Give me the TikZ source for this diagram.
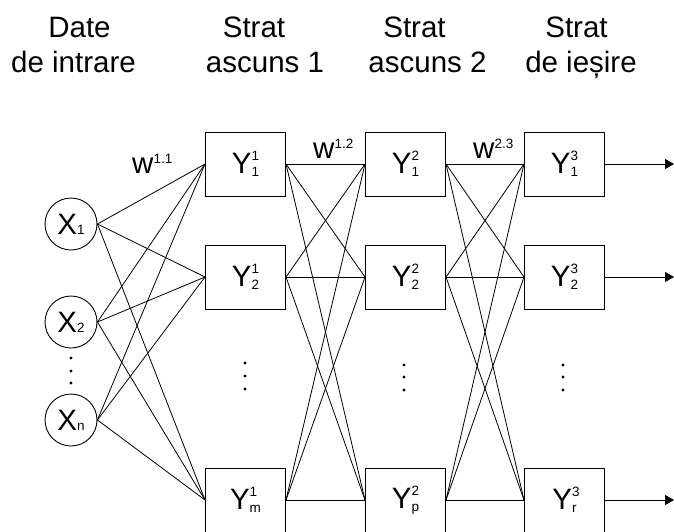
\documentclass[tikz,border=0pt]{standalone}
\usepackage{fontspec}
\setmainfont{Liberation Sans}
\usetikzlibrary{arrows.meta}
\newcommand\sfs{\fontsize{13.5}{14}\selectfont}
\newcommand\YS[3]{#1\rlap{\raisebox{13pt}{\sfs #2}}\raisebox{-2.5pt}{\sfs #3}}
\newcommand\XS[2]{#1{\sfs #2}}
\newcommand\WS[2]{#1\raisebox{10pt}{\sfs #2}}
\begin{document}
\begin{tikzpicture}[x=1pt,y=-1pt,
  every node/.style={font=\fontsize{29.5}{35}\selectfont},
  unit/.style={draw,line width=1pt,minimum width=80pt,minimum height=64pt,inner sep=0pt},
  inp/.style={draw,circle,line width=0.9pt,minimum size=52pt,inner sep=0pt},
  head/.style={anchor=base,inner sep=0pt},
  wl/.style={anchor=base west,inner sep=0pt},
  dot/.style={circle,fill,inner sep=0pt,minimum size=3.2pt},
  link/.style={line width=0.8pt},
  outarr/.style={line width=1pt,-{Triangle[length=9pt,width=10pt]}}]
\useasboundingbox (0,0) rectangle (674,531);
% headers
\node[head] (h1a) at (79.5,37) {Date};
\node[head] (h1b) at (73.5,72) {de intrare};
\node[head] (h2a) at (254,37) {Strat};
\node[head] (h2b) at (265,72) {ascuns 1};
\node[head] (h3a) at (414.5,37) {Strat};
\node[head] (h3b) at (427.5,72) {ascuns 2};
\node[head] (h4a) at (576.5,37) {Strat};
\node[head] (h4b) at (581,72) {de ieșire};
% input
\node[inp] (x1) at (71,224) {\XS{X}{1}};
\node[inp] (x2) at (71,322) {\XS{X}{2}};
\node[inp] (xn) at (71,420) {\XS{X}{n}};
% layer 1
\node[unit] (a1) at (245.5,164) {\YS{Y}{1}{1}};
\node[unit] (a2) at (245.5,277) {\YS{Y}{1}{2}};
\node[unit] (am) at (245.5,500) {\YS{Y}{1}{m}};
% layer 2
\node[unit] (b1) at (405.5,164) {\YS{Y}{2}{1}};
\node[unit] (b2) at (405.5,277) {\YS{Y}{2}{2}};
\node[unit] (bp) at (405.5,500) {\YS{Y}{2}{p}};
% layer 3
\node[unit] (c1) at (564.5,164) {\YS{Y}{3}{1}};
\node[unit] (c2) at (564.5,277) {\YS{Y}{3}{2}};
\node[unit] (cr) at (564.5,500) {\YS{Y}{3}{r}};
% dots
\node[dot] (dx1) at (71,358) {};
\node[dot] (dx2) at (71,371) {};
\node[dot] (dx3) at (71,383) {};
\node[dot] (da1) at (245,363) {};
\node[dot] (da2) at (245,376) {};
\node[dot] (da3) at (245,389) {};
\node[dot] (db1) at (404,365) {};
\node[dot] (db2) at (404,377) {};
\node[dot] (db3) at (404,390) {};
\node[dot] (dc1) at (563,365) {};
\node[dot] (dc2) at (563,377) {};
\node[dot] (dc3) at (563,390) {};
% weights
\node[wl] (w1) at (132,173) {\WS{w}{1.1}};
\node[wl] (w2) at (313,158) {\WS{w}{1.2}};
\node[wl] (w3) at (473,158) {\WS{w}{2.3}};
% connections
\foreach \s in {x1,x2,xn} \foreach \t in {a1,a2,am} \draw[link] (\s.east) -- (\t.west);
\foreach \s in {a1,a2,am} \foreach \t in {b1,b2,bp} \draw[link] (\s.east) -- (\t.west);
\foreach \s in {b1,b2,bp} \foreach \t in {c1,c2,cr} \draw[link] (\s.east) -- (\t.west);
% outputs
\coordinate (o1) at (674,164);
\coordinate (o2) at (674,277);
\coordinate (o3) at (674,500);
\draw[outarr] (c1.east) -- (o1);
\draw[outarr] (c2.east) -- (o2);
\draw[outarr] (cr.east) -- (o3);
\end{tikzpicture}
\end{document}
